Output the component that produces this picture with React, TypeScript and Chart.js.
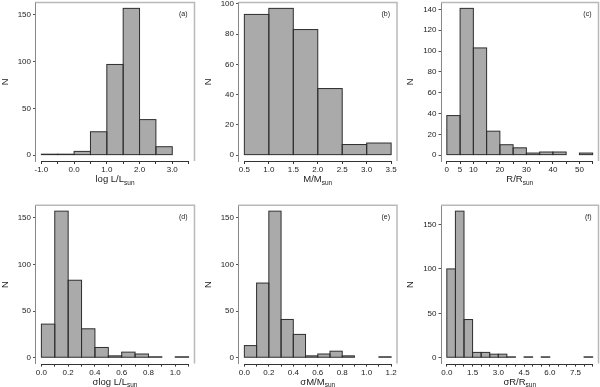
import React, { useEffect, useRef } from 'react';
import { Chart, registerables } from 'chart.js';

Chart.register(...registerables);
Chart.defaults.font.family = '"Liberation Sans", Arial, sans-serif';

// ---------- Data ----------
// (a) log L/Lsun
const aBinStarts = [-1.0, -0.5, 0.0, 0.5, 1.0, 1.5, 2.0, 2.5];
const aCounts = [1, 1, 4, 25, 97, 157, 38, 9];
const aXTicks = [-1.0, -0.5, 0.0, 0.5, 1.0, 1.5, 2.0, 2.5, 3.0, 3.5];
const aXLabels = ['-1.0', '', '0.0', '', '1.0', '', '2.0', '', '3.0', ''];
const aYTicks = [0, 50, 100, 150];

// (b) M/Msun
const bBinStarts = [0.5, 1.0, 1.5, 2.0, 2.5, 3.0];
const bCounts = [93, 97, 83, 44, 7, 8];
const bXTicks = [0.5, 1.0, 1.5, 2.0, 2.5, 3.0, 3.5];
const bXLabels = ['0.5', '1.0', '1.5', '2.0', '2.5', '3.0', '3.5'];
const bYTicks = [0, 20, 40, 60, 80, 100];

// (c) R/Rsun
const cBinStarts = [0, 5, 10, 15, 20, 25, 30, 35, 40, 45, 50];
const cCounts = [38, 141, 103, 23, 10, 7, 2, 3, 3, 0, 2];
const cXTicks = [0, 5, 10, 15, 20, 25, 30, 35, 40, 45, 50, 55];
const cXLabels = ['0', '5', '10', '', '20', '', '30', '', '40', '', '50', ''];
const cYTicks = [0, 20, 40, 60, 80, 100, 120, 140];

// (d) sigma log L/Lsun
const dBinStarts = [0.0, 0.1, 0.2, 0.3, 0.4, 0.5, 0.6, 0.7, 0.8, 0.9, 1.0];
const dCounts = [36, 157, 83, 31, 11, 2, 6, 4, 1, 0, 1];
const dXTicks = [0.0, 0.1, 0.2, 0.3, 0.4, 0.5, 0.6, 0.7, 0.8, 0.9, 1.0, 1.1];
const dXLabels = ['0.0', '', '0.2', '', '0.4', '', '0.6', '', '0.8', '', '1.0', ''];
const dYTicks = [0, 50, 100, 150];

// (e) sigma M/Msun
const eBinStarts = [0.0, 0.1, 0.2, 0.3, 0.4, 0.5, 0.6, 0.7, 0.8, 0.9, 1.0, 1.1];
const eCounts = [13, 80, 157, 41, 25, 2, 4, 7, 2, 0, 0, 1];
const eXTicks = [0.0, 0.1, 0.2, 0.3, 0.4, 0.5, 0.6, 0.7, 0.8, 0.9, 1.0, 1.1, 1.2];
const eXLabels = ['0.0', '', '0.2', '', '0.4', '', '0.6', '', '0.8', '', '1.0', '', '1.2'];
const eYTicks = [0, 50, 100, 150];

// (f) sigma R/Rsun
const fBinStarts = [0.0, 0.5, 1.0, 1.5, 2.0, 2.5, 3.0, 3.5, 4.0, 4.5, 5.0, 5.5, 6.0, 6.5, 7.0, 7.5, 8.0];
const fCounts = [100, 165, 43, 6, 6, 4, 4, 1, 0, 1, 0, 1, 0, 0, 0, 0, 1];
const fXTicks = [0.0, 0.5, 1.0, 1.5, 2.0, 2.5, 3.0, 3.5, 4.0, 4.5, 5.0, 5.5, 6.0, 6.5, 7.0, 7.5, 8.0, 8.5];
const fXLabels = ['0.0', '', '', '1.5', '', '', '3.0', '', '', '4.5', '', '', '6.0', '', '', '7.5', '', ''];
const fYTicks = [0, 50, 100, 150];

// ---------- Layout ----------
type Geom = { cx: number; cy: number; cw: number; ch: number; left: number; top: number; right: number; bottom: number };
type Panel = {
  starts: number[]; counts: number[]; binWidth: number; xLo: number; xHi: number;
  xTicks: number[]; xLabels: string[]; yTicks: number[];
  titleMain: string; titleSub: string; letter: string; g: Geom;
};

const ROW1 = { cy: 0, ch: 193, top: 2.5, bottom: 161 };
const ROW2 = { cy: 193, ch: 194, top: 205.3, bottom: 363.6 };
const COL1 = { cx: 0, cw: 200, left: 35.5, right: 194.5 };
const COL2 = { cx: 200, cw: 200, left: 238.5, right: 397 };
const COL3 = { cx: 400, cw: 200, left: 441, right: 598.5 };

const panels: Panel[] = [
  { starts: aBinStarts, counts: aCounts, binWidth: 0.5, xLo: -1.0, xHi: 3.5, xTicks: aXTicks, xLabels: aXLabels, yTicks: aYTicks, titleMain: 'log L/L', titleSub: 'sun', letter: '(a)', g: { ...ROW1, ...COL1 } },
  { starts: bBinStarts, counts: bCounts, binWidth: 0.5, xLo: 0.5, xHi: 3.5, xTicks: bXTicks, xLabels: bXLabels, yTicks: bYTicks, titleMain: 'M/M', titleSub: 'sun', letter: '(b)', g: { ...ROW1, ...COL2 } },
  { starts: cBinStarts, counts: cCounts, binWidth: 5, xLo: 0, xHi: 55, xTicks: cXTicks, xLabels: cXLabels, yTicks: cYTicks, titleMain: 'R/R', titleSub: 'sun', letter: '(c)', g: { ...ROW1, ...COL3 } },
  { starts: dBinStarts, counts: dCounts, binWidth: 0.1, xLo: 0, xHi: 1.1, xTicks: dXTicks, xLabels: dXLabels, yTicks: dYTicks, titleMain: 'σlog L/L', titleSub: 'sun', letter: '(d)', g: { ...ROW2, ...COL1 } },
  { starts: eBinStarts, counts: eCounts, binWidth: 0.1, xLo: 0, xHi: 1.2, xTicks: eXTicks, xLabels: eXLabels, yTicks: eYTicks, titleMain: 'σM/M', titleSub: 'sun', letter: '(e)', g: { ...ROW2, ...COL2 } },
  { starts: fBinStarts, counts: fCounts, binWidth: 0.5, xLo: 0, xHi: 8.5, xTicks: fXTicks, xLabels: fXLabels, yTicks: fYTicks, titleMain: 'σR/R', titleSub: 'sun', letter: '(f)', g: { ...ROW2, ...COL3 } },
];

const FONT = '"Liberation Sans", Arial, sans-serif';

function HistPanel({ p }: { p: Panel }) {
  const ref = useRef<HTMLCanvasElement>(null);
  useEffect(() => {
    const g = p.g;
    const c = p.counts;
    const yMax = Math.max(...c);
    const yPad = 0.04 * yMax;
    const xPad = 0.04 * (p.xHi - p.xLo);

    const decor = {
      id: 'decor',
      afterDatasetsDraw(chart: any) {
        // outline each bar with a centred 1px stroke (like R's rect())
        const { ctx } = chart;
        const meta = chart.getDatasetMeta(0);
        ctx.save();
        ctx.strokeStyle = '#2e2e2e';
        ctx.lineWidth = 1;
        meta.data.forEach((el: any, i: number) => {
          if (c[i] === 0) return;
          const w = el.width;
          ctx.strokeRect(el.x - w / 2, el.y, w, el.base - el.y);
        });
        ctx.restore();
      },
      afterDraw(chart: any) {
        const { ctx, chartArea: a } = chart;
        const xs = chart.scales.x;
        ctx.save();
        // grey frame top + right
        ctx.strokeStyle = '#b9b9b9';
        ctx.lineWidth = 1.5;
        ctx.beginPath();
        ctx.moveTo(a.left, a.top);
        ctx.lineTo(a.right, a.top);
        ctx.lineTo(a.right, a.bottom);
        ctx.stroke();
        // x axis line from first to last tick
        const x0 = xs.getPixelForValue(p.xTicks[0]);
        const x1 = xs.getPixelForValue(p.xTicks[p.xTicks.length - 1]);
        const yb = Math.round(a.bottom) + 0.5;
        ctx.strokeStyle = '#333';
        ctx.lineWidth = 1;
        ctx.beginPath();
        ctx.moveTo(x0, yb);
        ctx.lineTo(x1, yb);
        ctx.stroke();
        // x title with subscript
        ctx.fillStyle = '#222';
        ctx.textBaseline = 'alphabetic';
        ctx.textAlign = 'left';
        ctx.font = `9.5px ${FONT}`;
        const mw = ctx.measureText(p.titleMain).width;
        ctx.font = `6.5px ${FONT}`;
        const sw = ctx.measureText(p.titleSub).width;
        const sx = (a.left + a.right) / 2 - (mw + sw) / 2;
        const by = a.bottom + 21;
        ctx.font = `9.5px ${FONT}`;
        ctx.fillText(p.titleMain, sx, by);
        ctx.font = `6.5px ${FONT}`;
        ctx.fillText(p.titleSub, sx + mw, by + 2.5);
        // y title
        ctx.save();
        ctx.translate(a.left - 30.5, (a.top + a.bottom) / 2);
        ctx.rotate(-Math.PI / 2);
        ctx.font = `9.5px ${FONT}`;
        ctx.textAlign = 'center';
        ctx.textBaseline = 'middle';
        ctx.fillText('N', 0, 0);
        ctx.restore();
        // panel letter
        ctx.font = `7px ${FONT}`;
        ctx.textAlign = 'right';
        ctx.textBaseline = 'middle';
        ctx.fillText(p.letter, a.right - 7, a.top + 12);
        ctx.restore();
      },
    };

    const chart = new Chart(ref.current as HTMLCanvasElement, {
      type: 'bar',
      data: {
        datasets: [
          {
            data: p.starts.map((s, i) => ({ x: s + p.binWidth / 2, y: c[i] })),
            backgroundColor: '#aaaaaa',
            borderWidth: 0,
            inflateAmount: 0,
            barPercentage: 1,
            categoryPercentage: 1,
          } as any,
        ],
      },
      options: {
        animation: false,
        responsive: false,
        maintainAspectRatio: false,
        devicePixelRatio: 1,
        layout: { padding: { left: 0, top: g.top - g.cy, right: g.cx + g.cw - g.right, bottom: 0 } },
        plugins: { legend: { display: false }, tooltip: { enabled: false }, title: { display: false } },
        scales: {
          x: {
            type: 'linear',
            min: p.xLo - xPad,
            max: p.xHi + xPad,
            offset: false,
            afterBuildTicks: (s: any) => {
              s.ticks = p.xTicks.map((v) => ({ value: v }));
            },
            afterFit: (s: any) => {
              s.height = g.cy + g.ch - g.bottom;
              s.paddingLeft = 0;
              s.paddingRight = 0;
              s.paddingTop = 0;
              s.paddingBottom = 0;
            },
            grid: { display: true, drawOnChartArea: false, drawTicks: true, tickLength: 3, color: '#333', offset: false },
            border: { display: false },
            ticks: {
              font: { size: 8, family: FONT },
              color: '#222',
              padding: 1,
              autoSkip: false,
              maxRotation: 0,
              minRotation: 0,
              callback: (_v: any, i: number) => p.xLabels[i],
            },
          },
          y: {
            type: 'linear',
            min: -yPad,
            max: yMax + yPad,
            afterBuildTicks: (s: any) => {
              s.ticks = p.yTicks.map((v) => ({ value: v }));
            },
            afterFit: (s: any) => {
              s.width = g.left - g.cx;
              s.paddingLeft = 0;
              s.paddingRight = 0;
              s.paddingTop = 0;
              s.paddingBottom = 0;
            },
            grid: { display: true, drawOnChartArea: false, drawTicks: true, tickLength: 2.5, color: '#555' },
            border: { display: true, color: '#888888', width: 1 },
            ticks: {
              font: { size: 8, family: FONT },
              color: '#222',
              padding: 2,
              autoSkip: false,
              callback: (v: any) => String(v),
            },
          },
        },
      } as any,
      plugins: [decor],
    });
    return () => chart.destroy();
  }, [p]);

  const g = p.g;
  return (
    <canvas
      ref={ref}
      width={g.cw}
      height={g.ch}
      style={{ position: 'absolute', left: g.cx, top: g.cy, width: g.cw, height: g.ch }}
    />
  );
}

export default function App() {
  return (
    <div style={{ position: 'absolute', left: 0, top: 0, width: 600, height: 387, overflow: 'hidden', background: '#fff' }}>
      {panels.map((p) => (
        <HistPanel key={p.letter} p={p} />
      ))}
    </div>
  );
}
